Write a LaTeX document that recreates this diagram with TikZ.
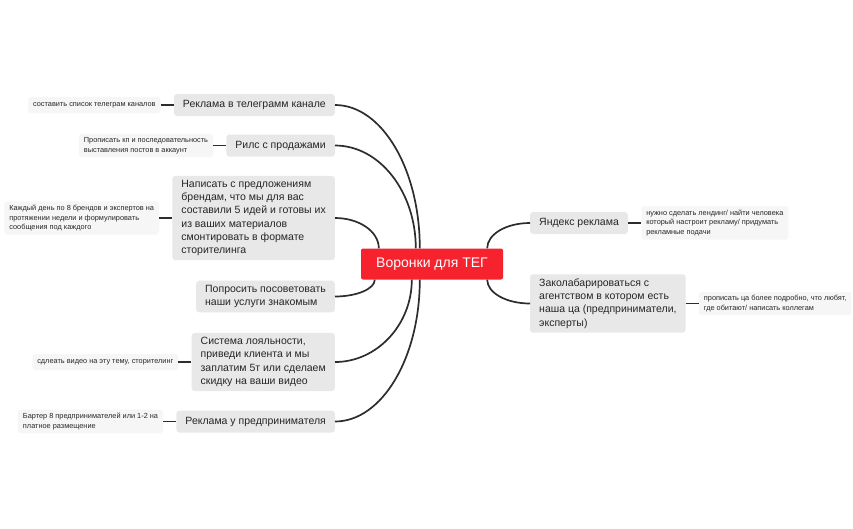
\documentclass[tikz,border=0pt]{standalone}
\usepackage{fontspec}
\setmainfont{Liberation Sans}
\usetikzlibrary{positioning}

\definecolor{funnelred}{RGB}{246,34,46}
\definecolor{branchgray}{RGB}{232,232,232}
\definecolor{notegray}{RGB}{246,246,246}
\definecolor{linkdark}{RGB}{45,45,45}
\definecolor{textdark}{RGB}{38,38,38}

\begin{document}
\begin{tikzpicture}[x=1pt, y=-1pt,
  rootnode/.style={fill=funnelred, rounded corners=2pt, text=white, minimum width=142pt, minimum height=31pt, font=\fontsize{14}{16}\selectfont},
  branch/.style={fill=branchgray, rounded corners=3pt, text=textdark, align=left, inner xsep=9pt, inner ysep=4.5pt, minimum height=22pt, font=\fontsize{10.5}{13.2}\selectfont},
  note/.style={fill=notegray, rounded corners=3pt, text=textdark, align=left, inner xsep=5pt, inner ysep=3.5pt, minimum height=16pt, font=\fontsize{7.35}{9.6}\selectfont},
  link/.style={draw=linkdark, line width=1.7pt}
]
\useasboundingbox[fill=white] (0,0) rectangle (853,528);

% root
\node[rootnode] (root) at (432,264) {Воронки для ТЕГ};

% left branches
\node[branch, anchor=east] (tg) at (335,105) {Реклама в телеграмм канале};
\node[branch, anchor=east] (rils) at (335,145.5) {Рилс с продажами};
\node[branch, anchor=east] (write) at (335,218) {Написать с предложениям\\брендам, что мы для вас\\составили 5 идей и готовы их\\из ваших материалов\\смонтировать в формате\\сторителинга};
\node[branch, anchor=east] (ask) at (335,296.5) {Попросить посоветовать\\наши услуги знакомым};
\node[branch, anchor=east] (loyal) at (335,362) {Система лояльности,\\приведи клиента и мы\\заплатим 5т или сделаем\\скидку на ваши видео};
\node[branch, anchor=east] (ads) at (335,421.5) {Реклама у предпринимателя};

% right branches
\node[branch, anchor=west] (yandex) at (530,223) {Яндекс реклама};
\node[branch, anchor=west] (agency) at (530,303.5) {Заколабарироваться с\\агентством в котором есть\\наша ца (предприниматели,\\эксперты)};

% notes
\node[note, left=13pt of tg] (tgnote) {составить список телеграм каналов};
\node[note, left=13pt of rils] (rilsnote) {Прописать кп и последовательность\\выставления постов в аккаунт};
\node[note, left=13pt of write] (writenote) {Каждый день по 8 брендов и экспертов на\\протяжении недели и формулировать\\сообщения под каждого};
\node[note, left=13pt of loyal] (loyalnote) {сдлеать видео на эту тему, сторителинг};
\node[note, left=13pt of ads] (adsnote) {Бартер 8 предпринимателей или 1-2 на\\платное размещение};
\node[note, right=13pt of yandex] (yandexnote) {нужно сделать лендинг/ найти человека\\который настроит рекламу/ придумать\\рекламные подачи};
\node[note, right=13pt of agency] (agencynote) {прописать ца более подробно, что любят,\\где обитают/ написать коллегам};

% attach points on the root
\coordinate (rtg) at ([xshift=59pt]root.north west);
\coordinate (rrils) at ([xshift=55pt]root.north west);
\coordinate (rwrite) at ([xshift=18pt]root.north west);
\coordinate (rask) at ([xshift=14pt]root.south west);
\coordinate (rloyal) at ([xshift=51pt]root.south west);
\coordinate (rads) at ([xshift=59pt]root.south west);
\coordinate (ryandex) at ([xshift=-16pt]root.north east);
\coordinate (ragency) at ([xshift=-16pt]root.south east);

% root to branches
\draw[link] (tg.east) .. controls +(47,0) and +(0,-79) .. (rtg);
\draw[link] (rils.east) .. controls +(45,0) and +(0,-56) .. (rrils);
\draw[link] (write.east) .. controls +(24,0) and +(0,-17) .. (rwrite);
\draw[link] (ask.east) .. controls +(22,0) and +(0,9) .. (rask);
\draw[link] (loyal.east) .. controls +(42,0) and +(0,45) .. (rloyal);
\draw[link] (ads.east) .. controls +(47,0) and +(0,78) .. (rads);
\draw[link] (yandex.west) .. controls +(-24,0) and +(0,-14) .. (ryandex);
\draw[link] (agency.west) .. controls +(-24,0) and +(0,13) .. (ragency);

% branches to notes
\draw[link] (tgnote) -- (tg);
\draw[link] (rilsnote) -- (rils);
\draw[link] (writenote) -- (write);
\draw[link] (loyalnote) -- (loyal);
\draw[link] (adsnote) -- (ads);
\draw[link] (yandex) -- (yandexnote);
\draw[link] (agency) -- (agencynote);
\end{tikzpicture}
\end{document}
